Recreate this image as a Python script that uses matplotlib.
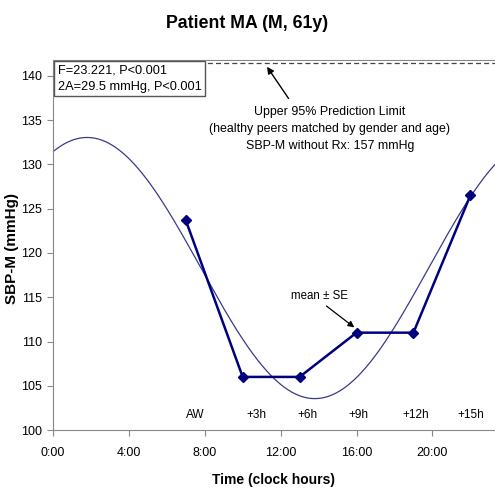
import numpy as np
import matplotlib
matplotlib.use("Agg")
import matplotlib.pyplot as plt
from matplotlib import font_manager

fams = [f.name for f in font_manager.fontManager.ttflist]
narrow = 'Liberation Sans Narrow' if 'Liberation Sans Narrow' in fams else 'Liberation Sans'
plt.rcParams['font.family'] = [narrow, 'DejaVu Sans']

# data
hours = [7, 10, 13, 16, 19, 22]
sbp = [123.7, 106.0, 106.0, 111.0, 111.0, 126.5]
sbp_se = [0.4, 0.4, 0.4, 0.5, 0.5, 0.4]
point_labels = ['AW', '+3h', '+6h', '+9h', '+12h', '+15h']
label_x = [7.5, 10.7, 13.4, 16.1, 19.1, 22.0]
mesor = 118.3
amplitude = 14.75
acrophase_h = 1.8
period_h = 24
upper_limit = 141.5
xticks = [0, 4, 8, 12, 16, 20]
xticklabels = ['0:00', '4:00', '8:00', '12:00', '16:00', '20:00']
yticks = [100, 105, 110, 115, 120, 125, 130, 135, 140]

navy = '#00007f'
curve_col = '#3a3a8c'

fig = plt.figure(figsize=(4.95, 4.96), dpi=100)
ax = fig.add_axes([0.107, 0.133, 0.893, 0.746])

t = np.linspace(0, 24, 500)
ax.plot(t, mesor + amplitude * np.cos(2 * np.pi * (t - acrophase_h) / period_h),
        color=curve_col, lw=0.9)
ax.errorbar(hours, sbp, yerr=sbp_se, color=navy, lw=1.8, marker='D', ms=5,
            ecolor='#555577', elinewidth=0.8, capsize=0)
ax.axhline(upper_limit, color='#444444', lw=0.9, ls=(0, (4, 2.5)))

for lx, lab in zip(label_x, point_labels):
    ax.text(lx, 101.0, lab, ha='center', va='bottom', fontsize=8.5)

ax.set_xlim(0, 23.3)
ax.set_ylim(100, 141.8)
ax.set_xticks(xticks)
ax.set_xticklabels(xticklabels, fontsize=9)
ax.set_yticks(yticks)
ax.tick_params(axis='y', labelsize=9, length=4, color='#888888', pad=4)
ax.tick_params(axis='x', length=4, color='#888888', pad=8)
for s in ax.spines.values():
    s.set_color('#888888')
ax.spines['right'].set_visible(False)

ax.set_xlabel('Time (clock hours)', fontsize=10, fontweight='bold', labelpad=10)
fig.text(0.025, 0.50, 'SBP-M (mmHg)', rotation=90, ha='center', va='center',
         fontsize=11, fontweight='bold')
fig.suptitle('Patient MA (M, 61y)', fontsize=12.8, fontweight='bold', y=0.97)

ax.text(0.25, 139.7, 'F=23.221, P<0.001\n2A=29.5 mmHg, P<0.001', fontsize=9.2,
        va='center', ha='left', linespacing=1.45,
        bbox=dict(boxstyle='square,pad=0.3', fc='white', ec='#555555', lw=1))

ax.annotate('', xy=(11.2, 141.3), xytext=(12.5, 137.2),
            arrowprops=dict(arrowstyle='-|>', color='black', lw=1, mutation_scale=10))
ax.text(14.6, 134.0, 'Upper 95% Prediction Limit\n(healthy peers matched by gender and age)\nSBP-M without Rx: 157 mmHg',
        ha='center', va='center', fontsize=8.9, linespacing=1.55)

ax.text(14.05, 115.1, 'mean \u00b1 SE', ha='center', va='center', fontsize=8.3)
ax.annotate('', xy=(16.0, 111.4), xytext=(14.3, 114.2),
            arrowprops=dict(arrowstyle='-|>', color='black', lw=0.9, mutation_scale=9))

fig.savefig('out.png', dpi=100)
